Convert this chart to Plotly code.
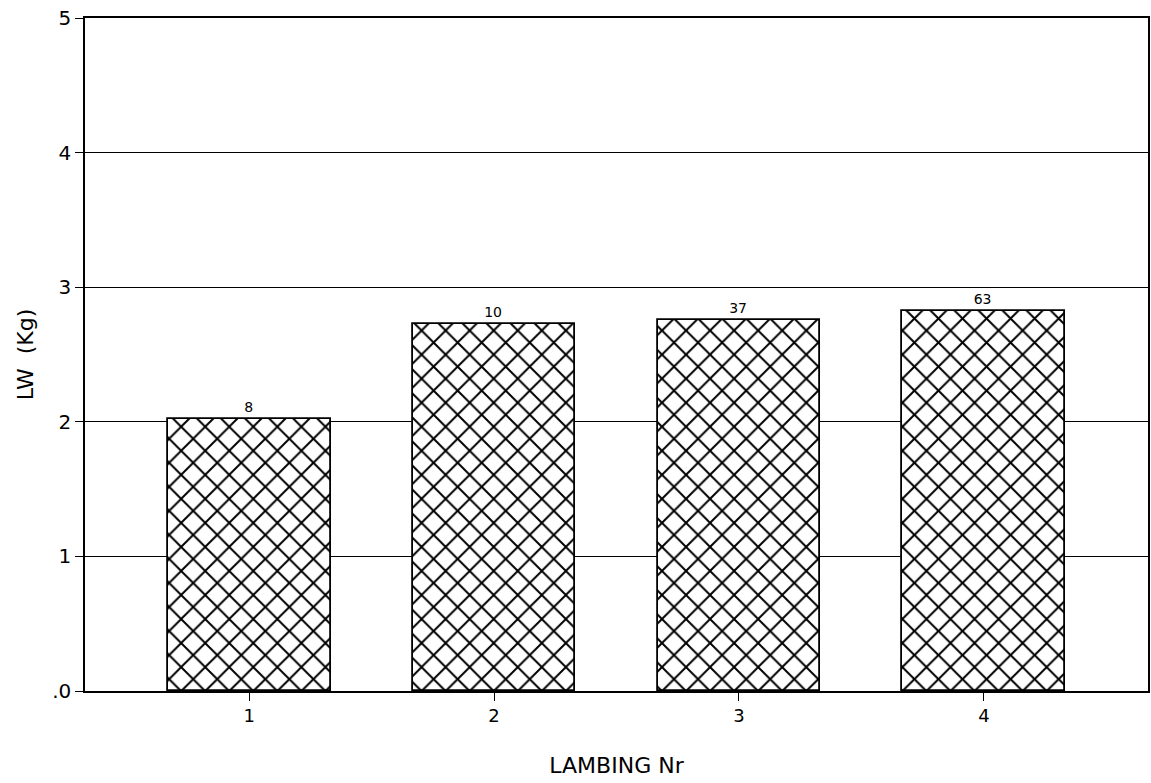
import plotly.graph_objects as go

categories = [1, 2, 3, 4]
lw_values = [2.02, 2.73, 2.76, 2.82]
counts = ["8", "10", "37", "63"]
y_tickvals = [0, 1, 2, 3, 4, 5]
y_ticktext = [".0", "1", "2", "3", "4", "5"]

fig = go.Figure()
fig.add_trace(go.Bar(
    x=categories, y=lw_values, width=0.665,
    text=counts, textposition="outside",
    textfont=dict(size=14, color="black"),
    cliponaxis=False,
    marker=dict(color="white",
                line=dict(color="black", width=1.8),
                pattern=dict(shape="x", size=17, solidity=0.22, fgcolor="black",
                             bgcolor="white", fgopacity=1, fillmode="replace")),
))

font_family = "DejaVu Sans, Arial, sans-serif"
fig.update_layout(
    width=1151, height=783,
    margin=dict(l=85, r=3, t=18, b=92, autoexpand=False),
    plot_bgcolor="white", paper_bgcolor="white",
    showlegend=False,
    font=dict(family=font_family, color="black"),
    bargap=0,
)
fig.update_xaxes(
    range=[0.33, 4.67], tickvals=categories, ticktext=[str(c) for c in categories],
    ticks="outside", ticklen=8, tickcolor="black", tickwidth=1.2,
    showgrid=False, showline=True, linecolor="black", linewidth=1.5, mirror=True,
    tickfont=dict(size=18), automargin=False,
    title=dict(text="LAMBING Nr", font=dict(size=22), standoff=32),
)
fig.update_yaxes(
    range=[0, 5], tickvals=y_tickvals, ticktext=y_ticktext,
    ticks="outside", ticklen=8, tickcolor="black", tickwidth=1.2,
    showgrid=True, gridcolor="black", gridwidth=1.2,
    showline=True, linecolor="black", linewidth=1.5, mirror=True,
    zeroline=False, automargin=False,
    tickfont=dict(size=20),
    title=dict(text="LW  (Kg)", font=dict(size=22), standoff=12),
)
fig.write_html("out.html", config={"displayModeBar": False},
               post_script="document.body.style.margin='0';document.body.style.overflow='hidden';")
